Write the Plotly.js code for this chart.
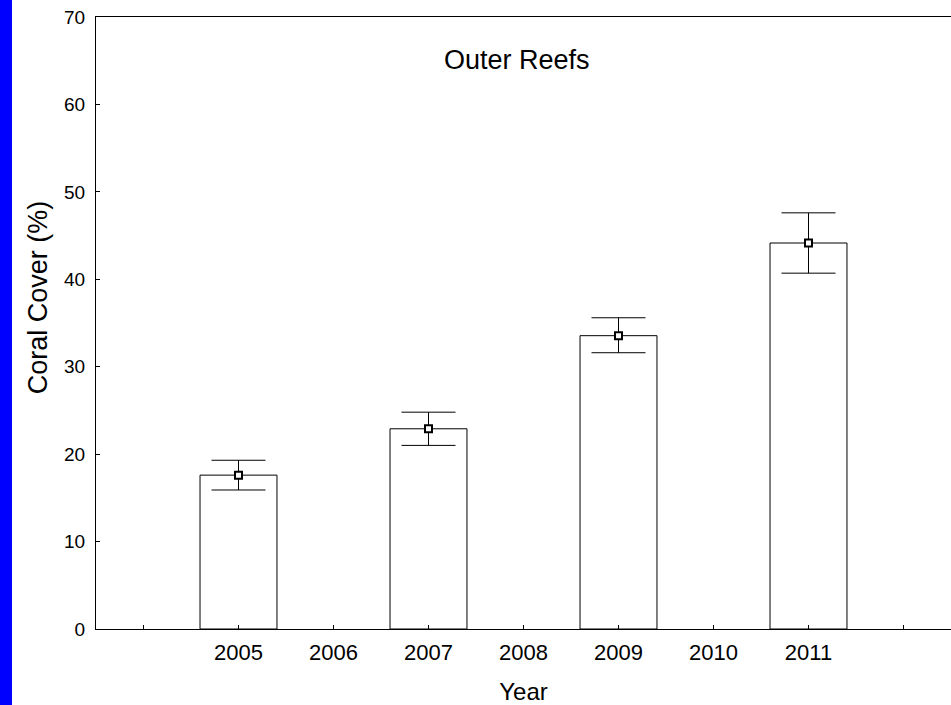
<!DOCTYPE html>
<html>
<head>
<meta charset="utf-8">
<script src="https://cdn.plot.ly/plotly-3.0.1.min.js"></script>
<style>
  html, body { margin: 0; padding: 0; background: #fff; }
  #chart { width: 951px; height: 705px; }
  #strip { position: absolute; left: 0; top: 0; width: 12px; height: 705px; background: #0000ff; z-index: 10; }
</style>
</head>
<body>
<div id="strip"></div>
<div id="chart"></div>
<script>
const years = [2005, 2007, 2009, 2011];
const coverMean = [17.6, 22.9, 33.55, 44.15];
const errPlus = [1.7, 1.9, 2.05, 3.45];
const errMinus = [1.7, 1.9, 1.95, 3.45];
const tickYears = [2004, 2005, 2006, 2007, 2008, 2009, 2010, 2011, 2012];
const tickLabels = ['', '2005', '2006', '2007', '2008', '2009', '2010', '2011', ''];
const yTicks = [0, 10, 20, 30, 40, 50, 60, 70];

const font = 'Liberation Sans, Arial, sans-serif';

const bars = {
  type: 'bar',
  x: years,
  y: coverMean,
  width: 0.81,
  marker: { color: '#ffffff', line: { color: '#000000', width: 1 } },
  hoverinfo: 'x+y',
  showlegend: false
};

const points = {
  type: 'scatter',
  mode: 'markers',
  x: years,
  y: coverMean,
  marker: { symbol: 'square', size: 7, color: '#ffffff', line: { color: '#000000', width: 2 } },
  error_y: {
    type: 'data',
    symmetric: false,
    array: errPlus,
    arrayminus: errMinus,
    color: '#000000',
    thickness: 1,
    width: 27
  },
  showlegend: false
};

const layout = {
  width: 951,
  height: 705,
  margin: { l: 96, r: 0, t: 17, b: 76 },
  paper_bgcolor: '#ffffff',
  plot_bgcolor: '#ffffff',
  font: { family: font, color: '#000000' },
  title: {
    text: 'Outer Reefs',
    font: { size: 27, family: font, color: '#000000' },
    xref: 'paper', yref: 'paper',
    x: 0.492, y: 0.93,
    xanchor: 'center', yanchor: 'middle'
  },
  xaxis: {
    range: [2003.5, 2012.5],
    tickmode: 'array',
    tickvals: tickYears,
    ticktext: tickLabels,
    ticks: 'inside',
    ticklen: 4,
    tickcolor: '#000000',
    ticklabelstandoff: 4,
    tickfont: { size: 22, family: font, color: '#000000' },
    showline: true,
    linecolor: '#000000',
    linewidth: 1,
    mirror: true,
    showgrid: false,
    zeroline: false,
    title: { text: 'Year', font: { size: 24, family: font, color: '#000000' }, standoff: 18 }
  },
  yaxis: {
    range: [0, 70],
    tickmode: 'array',
    tickvals: yTicks,
    ticks: 'inside',
    ticklen: 4,
    tickcolor: '#000000',
    ticklabelstandoff: 6,
    tickfont: { size: 19, family: font, color: '#000000' },
    showline: true,
    linecolor: '#000000',
    linewidth: 1,
    showgrid: false,
    zeroline: false
  },
  annotations: [{
    text: 'Coral Cover (%)',
    textangle: -90,
    xref: 'paper', yref: 'paper',
    x: -0.0678, y: 0.542,
    xanchor: 'center', yanchor: 'middle',
    showarrow: false,
    font: { size: 27, family: font, color: '#000000' }
  }],
  bargap: 0
};

Plotly.newPlot('chart', [bars, points], layout, { displayModeBar: false, staticPlot: true });
</script>
</body>
</html>
